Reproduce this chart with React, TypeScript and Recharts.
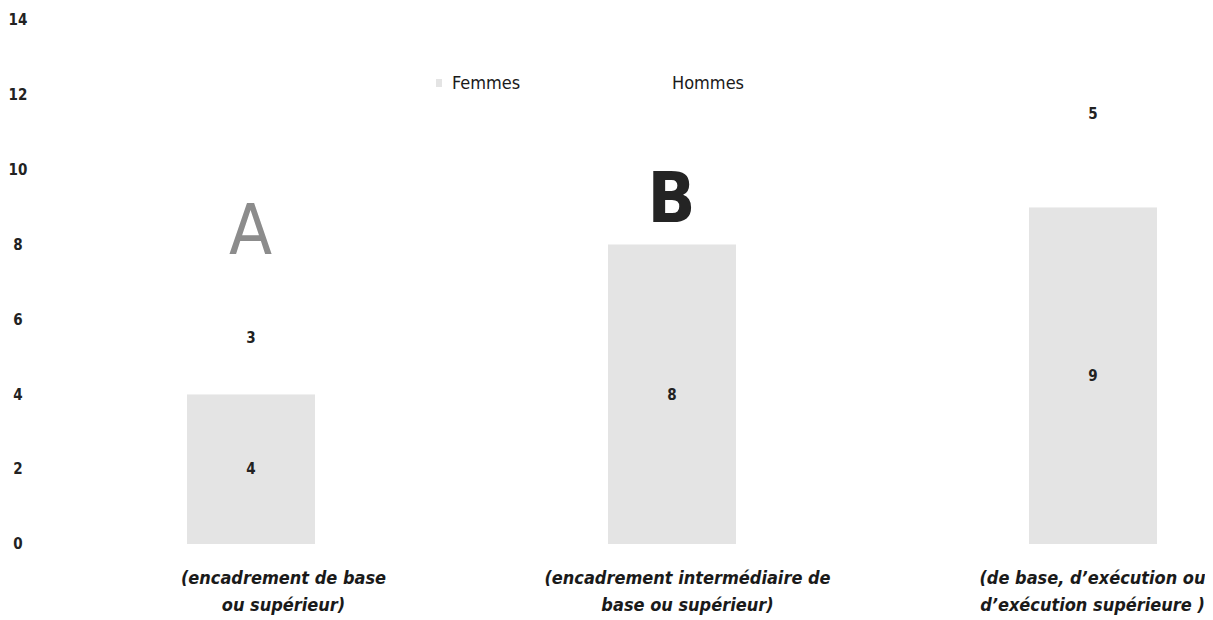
import React from 'react';
import { BarChart, Bar, XAxis, YAxis, LabelList, Legend, ReferenceDot } from 'recharts';

const categoryKeys = ['A', 'B', 'C'];
const categoryLabels = [
  ['(encadrement de base', 'ou supérieur)'],
  ['(encadrement intermédiaire de', 'base ou supérieur)'],
  ['(de base, d’exécution ou', 'd’exécution supérieure )'],
];
const femmes = [4, 8, 9];
const hommes = [3, 0, 5];
const yTicks = [0, 2, 4, 6, 8, 10, 12, 14];

// big stamped letters over the first two bars
const stampKeys = ['A', 'B'];
const stampY = [8.4, 9.3];

const data = categoryKeys.map((k, i) => ({ key: k, Femmes: femmes[i], Hommes: hommes[i] }));

const FONT = '"DejaVu Sans Condensed", "DejaVu Sans", sans-serif';
// the scanned labels sit a little right of their bars
const TICK_SHIFT = [33, 16, 0];

const CategoryTick = (props: any) => {
  const { x, y, index } = props;
  const lines = categoryLabels[index] || [];
  const cx = x + (TICK_SHIFT[index] || 0);
  return (
    <text x={cx} y={y} textAnchor="middle" fontFamily={FONT} fontStyle="italic" fontWeight="bold" fontSize={18} fill="#1a1a1a">
      {lines.map((l, i) => (
        <tspan key={i} x={cx} dy={i === 0 ? 32 : 27}>{l}</tspan>
      ))}
    </text>
  );
};

const renderLegend = (props: any) => {
  const items = props.payload || [];
  const lefts = [428, 648];
  return (
    <div style={{ position: 'relative', height: 0 }}>
      {items.map((it: any, i: number) => (
        <div key={i} style={{ position: 'absolute', left: lefts[i], top: 0, display: 'flex', alignItems: 'center', fontFamily: FONT, fontSize: 18, color: '#1a1a1a', whiteSpace: 'nowrap' }}>
          <span style={{ display: 'inline-block', width: 6, height: 8, background: it.color, marginRight: 10 }} />
          {it.value}
        </div>
      ))}
    </div>
  );
};

const stampLabel = (letter: string) => (p: any) => {
  const { viewBox } = p;
  const cx = viewBox.x + (viewBox.width || 0) / 2;
  const cy = viewBox.y + (viewBox.height || 0) / 2;
  const isA = letter === 'A';
  return (
    <text
      x={cx}
      y={cy}
      dy={isA ? 24 : 26}
      textAnchor="middle"
      fontFamily={isA ? '"Liberation Sans Narrow", "DejaVu Sans Condensed", sans-serif' : '"DejaVu Sans Condensed", sans-serif'}
      fontWeight={isA ? 'normal' : 'bold'}
      fontSize={70}
      fill={isA ? '#8c8c8c' : '#242424'}
    >
      {letter}
    </text>
  );
};

export default function App() {
  return (
    <div style={{ width: 1205, overflow: 'hidden' }}>
      <BarChart width={1295} height={612} data={data} margin={{ top: 12, right: 0, bottom: 0, left: 0 }}>
        <XAxis dataKey="key" axisLine={false} tickLine={false} height={76} tick={<CategoryTick />} interval={0} />
        <YAxis
          width={32}
          domain={[0, 14]}
          ticks={yTicks}
          axisLine={false}
          tickLine={false}
          tick={{ fontFamily: FONT, fontWeight: 'bold', fontSize: 15, fill: '#222', textAnchor: 'middle', dx: -14 }}
        />
        <Legend verticalAlign="top" content={renderLegend} wrapperStyle={{ top: 64, left: 0 }} />
        <Bar dataKey="Femmes" stackId="s" fill="#e4e4e4" barSize={128} isAnimationActive={false}>
          <LabelList dataKey="Femmes" position="center" fill="#222" fontFamily={FONT} fontWeight="bold" fontSize={15} />
        </Bar>
        <Bar dataKey="Hommes" stackId="s" fill="#ffffff" barSize={128} isAnimationActive={false}>
          <LabelList
            dataKey="Hommes"
            position="center"
            fill="#222"
            fontFamily={FONT}
            fontWeight="bold"
            fontSize={15}
            formatter={(v: any) => (v ? v : '')}
          />
        </Bar>
        {stampKeys.map((k, i) => (
          <ReferenceDot key={k} x={k} y={stampY[i]} r={0} fill="none" stroke="none" label={stampLabel(k)} />
        ))}
      </BarChart>
    </div>
  );
}
